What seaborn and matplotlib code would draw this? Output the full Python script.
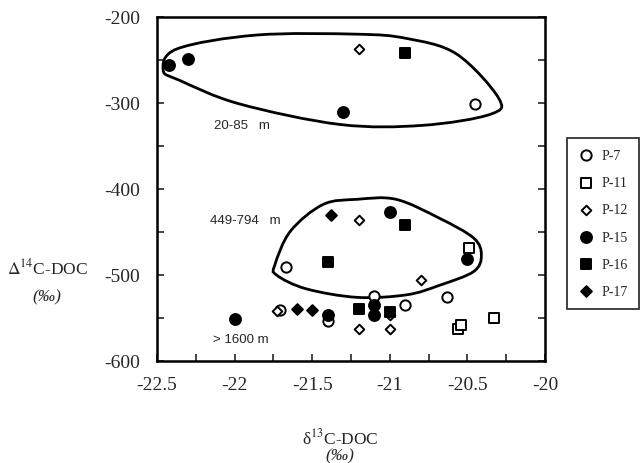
import matplotlib
matplotlib.use('Agg')
import matplotlib.pyplot as plt
from matplotlib.path import Path
from matplotlib.patches import PathPatch
from matplotlib.ticker import MultipleLocator, FuncFormatter
import numpy as np
import seaborn as sns

# delta13C-DOC (x) and Delta14C-DOC (y) per station
p7_x = [-20.45, -21.67, -21.10, -20.63, -21.71, -21.40, -20.90]
p7_y = [-301, -491, -524, -525, -541, -553, -535]
p11_x = [-20.49, -20.56, -20.54, -20.33]
p11_y = [-469, -563, -558, -550]
p12_x = [-21.20, -21.20, -20.80, -21.73, -21.20, -21.00, -21.00]
p12_y = [-237, -436, -506, -542, -563, -563, -547]
p15_x = [-22.42, -22.30, -21.30, -21.00, -20.50, -22.00, -21.40, -21.10, -21.10]
p15_y = [-256, -249, -311, -427, -481, -551, -546, -535, -546]
p16_x = [-20.90, -20.90, -21.40, -21.20, -21.00]
p16_y = [-242, -442, -485, -540, -543]
p17_x = [-21.38, -21.60, -21.50]
p17_y = [-430, -540, -541]

# hand drawn depth-group outlines (data coords)
shallow_x = [-22.46, -22.37, -21.86, -21.21, -20.89, -20.57, -20.30, -20.35,
             -20.79, -21.32, -21.97, -22.35]
shallow_y = [-262, -237, -221, -220, -225, -243, -294, -313, -326, -325, -301, -274]
mid_x = [-21.74, -21.64, -21.43, -21.21, -20.96, -20.68, -20.46, -20.41, -20.46,
         -20.68, -20.89, -21.21, -21.54, -21.73]
mid_y = [-488, -449, -418, -412, -412, -434, -457, -477, -496, -512, -523, -526,
         -516, -500]

sns.set_style('ticks')
plt.rcParams['font.family'] = ['Liberation Serif', 'DejaVu Serif']
plt.rcParams['mathtext.fontset'] = 'stix'

fig = plt.figure(figsize=(6.42, 4.64), dpi=100)
ax = fig.add_axes([157 / 642, 1 - 362 / 464, 388 / 642, 344 / 464])

series = [
    ('P-7', p7_x, p7_y, 'o', 'white', 55),
    ('P-11', p11_x, p11_y, 's', 'white', 48),
    ('P-12', p12_x, p12_y, 'D', 'white', 24),
    ('P-15', p15_x, p15_y, 'o', 'black', 62),
    ('P-16', p16_x, p16_y, 's', 'black', 56),
    ('P-17', p17_x, p17_y, 'D', 'black', 30),
]
for name, xs, ys, mk, fc, s in series:
    sns.scatterplot(x=xs, y=ys, ax=ax, marker=mk, color=fc, edgecolor='black',
                    linewidth=1.4, s=s, label=name, zorder=3)


def closed_smooth(xs, ys):
    pts = np.column_stack([xs, ys])
    n = len(pts)
    verts = [pts[0]]
    codes = [Path.MOVETO]
    for i in range(n):
        p0, p1, p2, p3 = pts[i - 1], pts[i], pts[(i + 1) % n], pts[(i + 2) % n]
        verts += [p1 + (p2 - p0) / 6, p2 - (p3 - p1) / 6, p2]
        codes += [Path.CURVE4] * 3
    return Path(verts, codes)


for xs, ys in [(shallow_x, shallow_y), (mid_x, mid_y)]:
    ax.add_patch(PathPatch(closed_smooth(xs, ys), fill=False, lw=2.0,
                           edgecolor='black', zorder=2))

lab_kw = dict(fontsize=9.5, family='Liberation Sans', ha='center', va='center')
ax.text(-21.95, -326, '20-85   m', **lab_kw)
ax.text(-21.93, -436, '449-794   m', **lab_kw)
ax.text(-21.96, -575, '> 1600 m', **lab_kw)

ax.set_xlim(-22.5, -20)
ax.set_ylim(-600, -200)
ax.xaxis.set_major_locator(MultipleLocator(0.5))
ax.xaxis.set_minor_locator(MultipleLocator(0.25))
ax.yaxis.set_major_locator(MultipleLocator(100))
ax.yaxis.set_minor_locator(MultipleLocator(50))
ax.xaxis.set_major_formatter(FuncFormatter(lambda v, p: f'{v:g}'))
ax.yaxis.set_major_formatter(FuncFormatter(lambda v, p: f'{v:g}'))
ax.tick_params(which='both', direction='in', length=5, width=1.2,
               right=True, labelsize=14)
ax.tick_params(axis='y', pad=12)
ax.tick_params(axis='x', pad=11)
for sp in ax.spines.values():
    sp.set_linewidth(1.8)
    sp.set_color('black')

leg = ax.legend(loc='upper left', bbox_to_anchor=(560 / 642, 1 - 132 / 464),
                bbox_transform=fig.transFigure, frameon=True, fancybox=False,
                edgecolor='black', fontsize=10, labelspacing=1.02,
                handletextpad=0.5, borderpad=0.8, handlelength=1.2)
leg.get_frame().set_linewidth(1.3)

fig.text(47 / 642, 1 - 268 / 464, r'$\Delta^{14}$C-DOC', ha='center', va='center', fontsize=12.5)
fig.text(47 / 642, 1 - 297 / 464, '(‰)', ha='center', va='center', fontsize=12.5, style='italic')
fig.text(340 / 642, 1 - 438 / 464, r'δ$^{13}$C-DOC', ha='center', va='center', fontsize=12.5)
fig.text(340 / 642, 1 - 456 / 464, '(‰)', ha='center', va='center', fontsize=12.5, style='italic')

fig.savefig('out.png', dpi=100)
